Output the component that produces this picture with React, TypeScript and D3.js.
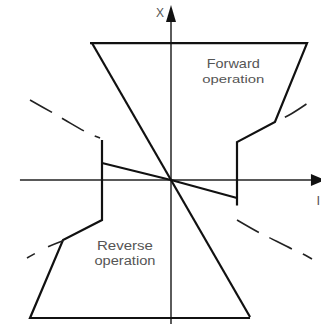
import React from "react";
import * as d3 from "d3";

// Data in chart units (horizontal: current I, vertical: X)
const forwardBoundary: [number, number][] = [
  [-54, 91.3], [90.7, 91.3], [69.3, 38.7], [44, 25.3], [44, -17],
];
const forwardLine: [number, number][] = [[0, 0], [44, -12]];
const diagonal: [number, number][] = [[-52.7, 91.3], [52.7, -91.3]];
const reverseBoundary: [number, number][] = [
  [-46, 26.7], [-46, -26.7], [-72, -40], [-94, -92], [52.7, -92],
];
const reverseLine: [number, number][] = [[0, 0], [-46, 11.3]];

const dashUpperLeft: [number, number][] = [
  [-94, 53.3], [-78.7, 44.7], [-70.7, 40], [-55.3, 31.3], [-47.3, 28],
];
const dashLowerRight: [number, number][] = [
  [44, -26.7], [58, -34.7], [64.7, -38], [80.7, -46], [89.3, -50], [94, -52.7],
];
const dashUpperRight: [number, number][] = [[69.3, 38.7], [80, 44], [93, 52.5]];
const dashLowerLeft: [number, number][] = [[-72, -40.5], [-83, -45], [-96, -52]];

const axisIRange = [-100.7, 93.3];
const axisXRange = [-96, 105.3];
const labels = [
  { text: "Forward", u: 41.5, v: 74.7, size: 13, len: 53 },
  { text: "operation", u: 41.5, v: 64.7, size: 11, len: 62 },
  { text: "Reverse", u: -30.7, v: -46.7, size: 13, len: 56 },
  { text: "operation", u: -30.7, v: -56.7, size: 12, len: 61 },
];

export default function App() {
  const W = 321, H = 324;
  const x = d3.scaleLinear().domain([-100, 100]).range([21, 321]);
  const y = d3.scaleLinear().domain([-100, 100]).range([330, 30]);
  const line = d3.line<[number, number]>().x(d => x(d[0])).y(d => y(d[1]));
  const curve = d3.line<[number, number]>().x(d => x(d[0])).y(d => y(d[1])).curve(d3.curveCatmullRom);

  const ox = x(0), oy = y(0);
  const axTop = y(axisXRange[1]);
  const axRight = x(axisIRange[1]);

  return (
    <svg width={W} height={H} style={{ position: "absolute", left: 0, top: 0, background: "#fff" }}>
      {/* axes */}
      <line x1={ox} x2={ox} y1={y(axisXRange[0])} y2={axTop} stroke="#333" strokeWidth={1.6} />
      <line x1={x(axisIRange[0])} x2={axRight} y1={oy} y2={oy} stroke="#222" strokeWidth={1.6} />
      <path d={`M${ox},${axTop - 17} L${ox - 5},${axTop} L${ox + 5},${axTop} Z`} fill="#111" />
      <path d={`M${axRight + 14},${oy} L${axRight},${oy - 6} L${axRight},${oy + 6} Z`} fill="#111" />
      <text x={ox - 11} y={17} fontSize={12} fill="#555" fontFamily="Liberation Sans, Arial, sans-serif" textAnchor="middle">X</text>
      <text x={316.5} y={205} fontSize={13} fill="#555" fontFamily="Liberation Sans, Arial, sans-serif">I</text>

      {/* main lines */}
      <g fill="none" stroke="#111" strokeWidth={2.2} strokeLinejoin="miter">
        <path d={line(forwardBoundary)!} />
        <path d={line(forwardLine)!} />
        <path d={line(diagonal)!} />
        <path d={line(reverseBoundary)!} />
        <path d={line(reverseLine)!} />
      </g>

      {/* dashed curves */}
      <g fill="none" stroke="#222" strokeWidth={1.6} strokeDasharray="25,12">
        <path d={curve(dashUpperLeft)!} />
        <path d={curve(dashLowerRight)!} />
        <path d={curve(dashUpperRight)!} strokeDashoffset={-11} />
        <path d={curve(dashLowerLeft)!} strokeDasharray="16,15" />
      </g>

      {labels.map((l, i) => (
        <text key={i} x={x(l.u)} y={y(l.v)} fontSize={l.size} fill="#555" textAnchor="middle"
          fontFamily="Liberation Sans, Arial, sans-serif" textLength={l.len} lengthAdjust="spacingAndGlyphs">
          {l.text}
        </text>
      ))}
    </svg>
  );
}
